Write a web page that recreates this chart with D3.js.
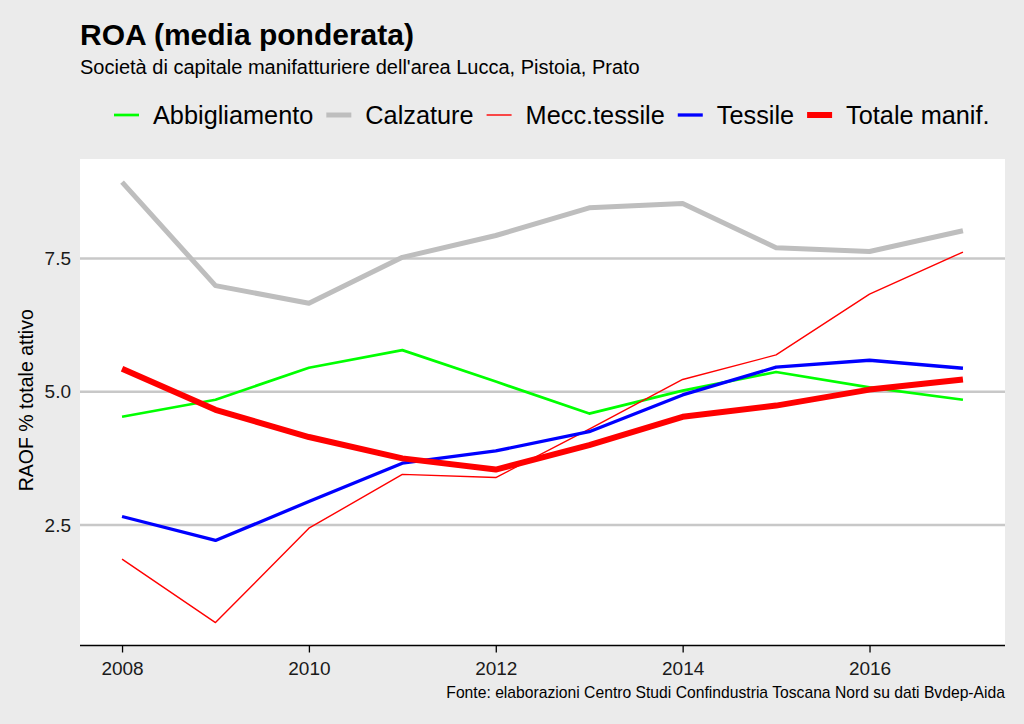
<!DOCTYPE html>
<html>
<head>
<meta charset="utf-8">
<script src="https://cdn.jsdelivr.net/npm/d3@7"></script>
<style>
  body { margin: 0; background: #ebebeb; }
  svg text { font-family: "Liberation Sans", Arial, sans-serif; }
</style>
</head>
<body>
<div id="chart"></div>
<script>
// data
const years = [2008, 2009, 2010, 2011, 2012, 2013, 2014, 2015, 2016, 2017];
const seriesNames = ['Abbigliamento', 'Calzature', 'Mecc.tessile', 'Tessile', 'Totale manif.'];
const abbigliamento = [4.53, 4.85, 5.45, 5.78, 5.19, 4.59, 5.02, 5.37, 5.08, 4.85];
const calzature     = [8.93, 6.99, 6.66, 7.52, 7.93, 8.45, 8.53, 7.70, 7.63, 8.02];
const meccTessile   = [1.86, 0.67, 2.44, 3.45, 3.39, 4.30, 5.23, 5.69, 6.83, 7.62];
const tessile       = [2.66, 2.21, 2.94, 3.66, 3.89, 4.25, 4.94, 5.46, 5.59, 5.44];
const totale        = [5.43, 4.66, 4.15, 3.75, 3.54, 4.00, 4.53, 4.74, 5.04, 5.23];
const yTicks = [2.5, 5.0, 7.5];
const xTicks = [2008, 2010, 2012, 2014, 2016];

const W = 1024, H = 724;
const panel = { left: 80, right: 1005, top: 159, bottom: 645.5 };

const svg = d3.select('#chart').append('svg')
  .attr('width', W).attr('height', H);

svg.append('rect').attr('width', W).attr('height', H).attr('fill', '#ebebeb');
svg.append('rect')
  .attr('x', panel.left).attr('y', panel.top)
  .attr('width', panel.right - panel.left).attr('height', panel.bottom - panel.top)
  .attr('fill', '#fff');

// scales (ggplot-like 5% expansion)
const x = d3.scaleLinear().domain([2007.55, 2017.45]).range([panel.left, panel.right]);
const y = d3.scaleLinear().domain([0.24, 9.365]).range([panel.bottom, panel.top]);

// gridlines
svg.append('g').selectAll('line').data(yTicks).enter().append('line')
  .attr('x1', panel.left).attr('x2', panel.right)
  .attr('y1', d => y(d)).attr('y2', d => y(d))
  .attr('stroke', '#c8c8c8').attr('stroke-width', 2.5);

// series
const series = [
  { name: seriesNames[0], values: abbigliamento, color: '#00ff00', w: 2.7 },
  { name: seriesNames[1], values: calzature,     color: '#bebebe', w: 5.0 },
  { name: seriesNames[2], values: meccTessile,   color: '#ff0000', w: 1.4 },
  { name: seriesNames[3], values: tessile,       color: '#0000ff', w: 3.3 },
  { name: seriesNames[4], values: totale,        color: '#ff0000', w: 6.0 }
];

const line = d3.line().x((d, i) => x(years[i])).y(d => y(d));

svg.append('g').selectAll('path').data(series).enter().append('path')
  .attr('d', d => line(d.values))
  .attr('fill', 'none')
  .attr('stroke', d => d.color)
  .attr('stroke-width', d => d.w)
  .attr('stroke-linejoin', 'round');

// x axis
const xAxis = svg.append('g')
  .attr('transform', `translate(0,${panel.bottom})`)
  .call(d3.axisBottom(x).tickValues(xTicks).tickFormat(d3.format('d')).tickSize(7).tickPadding(9));
xAxis.select('.domain').attr('stroke', '#000').attr('stroke-width', 1.3)
  .attr('d', `M${panel.left},0H${panel.right}`);
xAxis.selectAll('.tick line').attr('stroke', '#000').attr('stroke-width', 1.3);
xAxis.selectAll('.tick text').attr('font-size', 19).attr('fill', '#1a1a1a')
  .style('font-family', '"Liberation Sans", Arial, sans-serif');

// y tick labels
svg.append('g').selectAll('text').data(yTicks).enter().append('text')
  .attr('x', panel.left - 9).attr('y', d => y(d))
  .attr('dy', '0.35em')
  .attr('text-anchor', 'end')
  .attr('font-size', 19).attr('fill', '#1a1a1a')
  .text(d => d.toFixed(1));

// y axis title
svg.append('text')
  .attr('transform', `translate(33,${(panel.top + panel.bottom) / 2 - 2}) rotate(-90)`)
  .attr('text-anchor', 'middle')
  .attr('font-size', 19.5).attr('fill', '#000')
  .text('RAOF % totale attivo');

// title + subtitle
svg.append('text')
  .attr('x', 80).attr('y', 45)
  .attr('font-size', 30).attr('font-weight', 'bold').attr('fill', '#000')
  .text('ROA (media ponderata)');
svg.append('text')
  .attr('x', 80).attr('y', 74)
  .attr('font-size', 20).attr('fill', '#000')
  .text("Società di capitale manifatturiere dell'area Lucca, Pistoia, Prato");

// legend
const lg = svg.append('g');
let lx = 114;
const ly = 115;
series.forEach(s => {
  lg.append('line')
    .attr('x1', lx).attr('x2', lx + 25)
    .attr('y1', ly).attr('y2', ly)
    .attr('stroke', s.color).attr('stroke-width', s.w);
  const t = lg.append('text')
    .attr('x', lx + 39).attr('y', ly + 9)
    .attr('font-size', 25.3).attr('fill', '#000')
    .text(s.name);
  lx += 39 + t.node().getComputedTextLength() + 13;
});

// caption
svg.append('text')
  .attr('x', 1005).attr('y', 698)
  .attr('text-anchor', 'end')
  .attr('font-size', 15.7).attr('fill', '#000')
  .text('Fonte: elaborazioni Centro Studi Confindustria Toscana Nord su dati Bvdep-Aida');
</script>
</body>
</html>
